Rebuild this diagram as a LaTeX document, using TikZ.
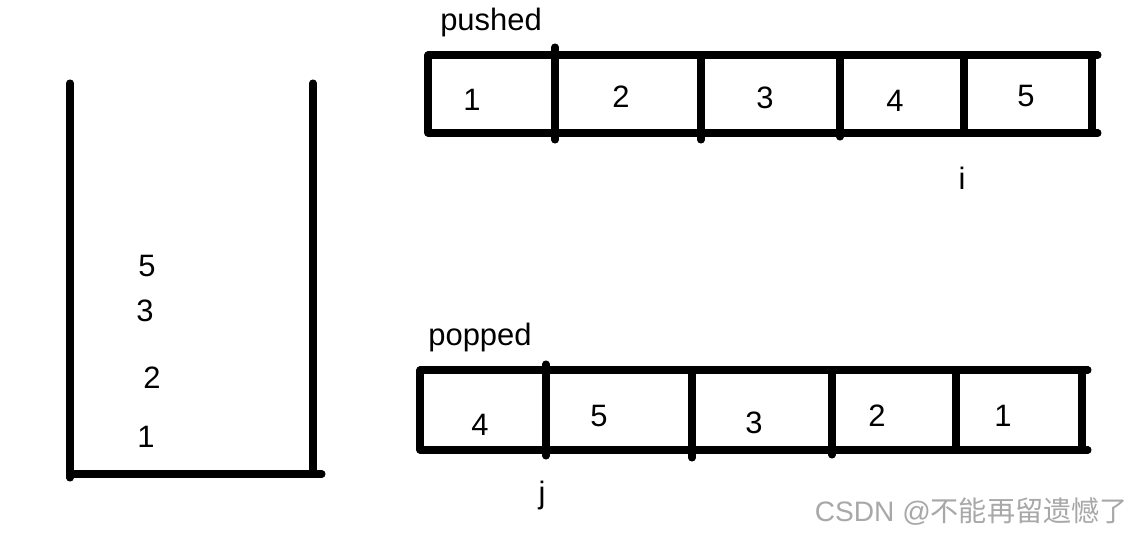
\documentclass[tikz,border=0pt]{standalone}
\usepackage{fontspec}
\setmainfont{Liberation Sans}
\newfontfamily\cjk{Noto Sans CJK SC}
\usepackage{tikz}
\definecolor{markgray}{HTML}{A8A8A8}

\begin{document}
\begin{tikzpicture}[x=0.025cm,y=-0.025cm,
    bar/.style={line width=5pt, black, line cap=round},
    num/.style={inner sep=0pt, font=\fontsize{22}{24}\selectfont},
    tag/.style={inner sep=0pt, font=\fontsize{22}{24}\selectfont}]

  \fill[white] (0,0) rectangle (1144,535);

  % -- the stack (open on top)
  \draw[bar] (70,83) -- (70,478);
  \draw[bar] (313,83) -- (313,472);
  \draw[bar] (70,474) -- (322,474);
  \foreach \v/\x/\y in {5/147/266, 3/145/311, 2/152/378, 1/146/437}
    \node[num] (s\v) at (\x,\y) {\v};

  % -- pushed array
  \node[tag] (pushed) at (491,22) {pushed};
  \draw[bar] (428,55) -- (1098,55);
  \draw[bar] (428,133) -- (1098,133);
  \draw[bar] (428,55) -- (428,133);
  \foreach \x/\t/\b in {555/47/140, 701/55/140, 840/55/137, 964/55/133, 1092/55/133}
    \draw[bar] (\x,\t) -- (\x,\b);
  \foreach \v/\x/\y in {1/472/100, 2/621/97, 3/765/98, 4/895/101, 5/1026/96}
    \node[num] (a\v) at (\x,\y) {\v};
  \node[num] (i) at (962,178) {i};

  % -- popped array
  \node[tag] (popped) at (480,337) {popped};
  \draw[bar] (420,370) -- (1088,370);
  \draw[bar] (420,450) -- (1088,450);
  \draw[bar] (420,370) -- (420,450);
  \foreach \x/\t/\b in {546/364/456, 692/370/458, 832/370/455, 956/370/450, 1082/370/450}
    \draw[bar] (\x,\t) -- (\x,\b);
  \foreach \v/\x/\y in {4/480/425, 5/599/416, 3/754/423, 2/877/416, 1/1003/416}
    \node[num] (b\v) at (\x,\y) {\v};
  \node[num] (j) at (542,495) {j};

  % -- watermark
  \node[inner sep=0pt, anchor=east, text=markgray,
        font=\fontsize{20}{22}\selectfont] (mark) at (1128,512)
        {CSDN @{\cjk 不能再留遗憾了}};

  \useasboundingbox (0,0) rectangle (1144,535);
\end{tikzpicture}
\end{document}
